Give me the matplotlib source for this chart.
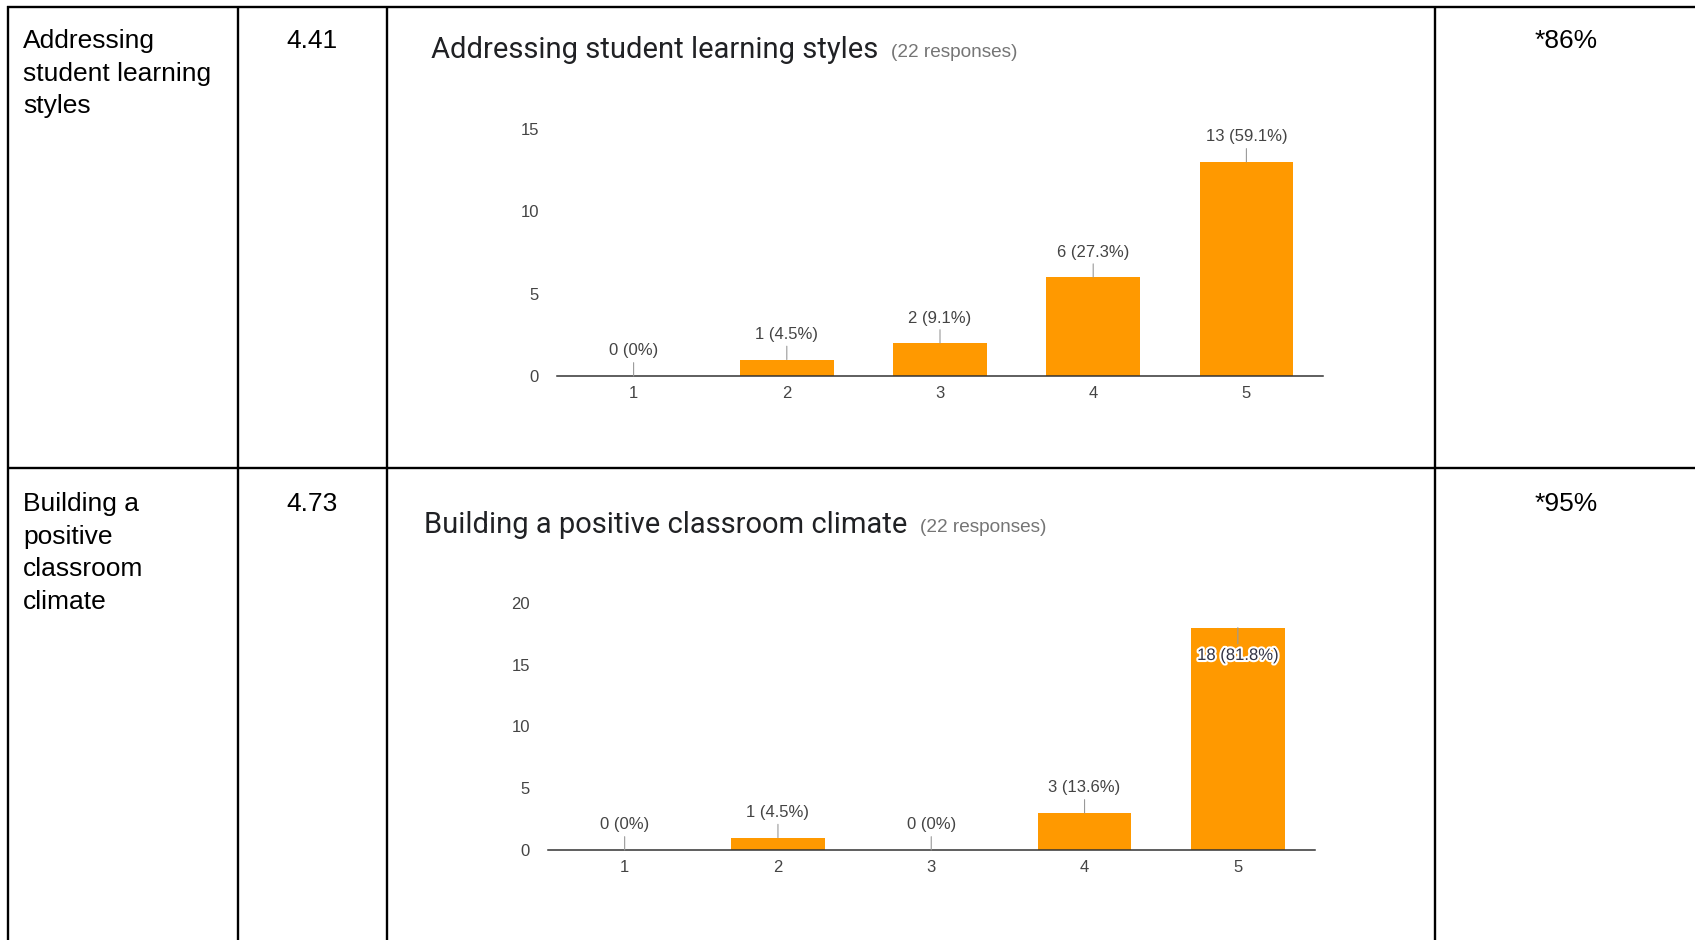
import numpy as np
import matplotlib.pyplot as plt
import matplotlib.patheffects as pe

# canvas size in pixels (dpi 100)
W, H = 1695, 940

row_names = ['Addressing\nstudent learning\nstyles',
             'Building a\npositive\nclassroom\nclimate']
row_means = ['4.41', '4.73']
row_agree = ['*86%', '*95%']

chart_titles = ['Addressing student learning styles',
                'Building a positive classroom climate']
n_responses = [22, 22]
scale = [1, 2, 3, 4, 5]
counts_styles = [0, 1, 2, 6, 13]
counts_climate = [0, 1, 0, 3, 18]
y_max = [15, 20]

ORANGE = '#ff9900'
TXT = '#444444'

plt.rcParams['font.family'] = ['Liberation Sans', 'DejaVu Sans']

fig = plt.figure(figsize=(W / 100, H / 100), dpi=100)
fig.patch.set_facecolor('white')

# full-size axes in pixel units for the table grid and cell text
bg = fig.add_axes([0, 0, 1, 1])
bg.set_xlim(0, W)
bg.set_ylim(H, 0)
bg.axis('off')

col_x = [8, 238, 387, 1435]
row_y = [7, 468]
text_off = [22, 24]
for x in col_x:
    bg.plot([x, x], [row_y[0] - 1, H], color='black', lw=1.7, solid_capstyle='butt')
for y in row_y:
    bg.plot([col_x[0] - 1, W], [y, y], color='black', lw=1.7, solid_capstyle='butt')

for i, y0 in enumerate(row_y):
    ty = y0 + text_off[i]
    bg.text(23, ty, row_names[i], fontsize=19, color='black',
            va='top', ha='left', linespacing=1.45)
    bg.text(312, ty, row_means[i], fontsize=19, color='black',
            va='top', ha='center')
    bg.text(1566, ty, row_agree[i], fontsize=19, color='black',
            va='top', ha='center')


def pct_label(c, total):
    p = round(100 * c / total, 1)
    return f'{c} ({p:g}%)'


def draw_chart(rect, counts, ymax, total):
    l, r, t, b = rect
    ax = fig.add_axes([l / W, 1 - b / H, (r - l) / W, (b - t) / H])
    ax.bar(scale, counts, width=0.61, color=ORANGE, zorder=2)
    ax.set_xlim(0.5, 5.5)
    ax.set_ylim(0, ymax)
    ax.set_xticks(scale)
    ax.set_yticks(np.arange(0, ymax + 1, 5))
    for s in ['top', 'right', 'left']:
        ax.spines[s].set_visible(False)
    ax.spines['bottom'].set_color('#333333')
    ax.spines['bottom'].set_linewidth(1.1)
    ax.spines['bottom'].set_zorder(3)
    ax.tick_params(axis='x', length=0, pad=7.5, labelsize=12, labelcolor=TXT)
    ax.tick_params(axis='y', length=0, pad=13, labelsize=12, labelcolor=TXT)
    ax.patch.set_alpha(0)

    px_per_unit = (b - t) / ymax
    for x, c in zip(scale, counts):
        lab = pct_label(c, total)
        inside = c + 25 / px_per_unit > ymax
        if inside:
            ax.annotate(lab, xy=(x, c), xytext=(0, -20), textcoords='offset points',
                        ha='center', va='center', fontsize=12, color='#333344',
                        path_effects=[pe.withStroke(linewidth=3, foreground='white')],
                        arrowprops=dict(arrowstyle='-', color='#999999', lw=0.8,
                                        shrinkA=1, shrinkB=0),
                        annotation_clip=False, zorder=4)
        else:
            ax.annotate(lab, xy=(x, c), xytext=(0, 18), textcoords='offset points',
                        ha='center', va='center', fontsize=12, color=TXT,
                        arrowprops=dict(arrowstyle='-', color='#999999', lw=0.8,
                                        shrinkA=1, shrinkB=0),
                        annotation_clip=False, zorder=4)
    return ax


draw_chart((557, 1323, 129, 376), counts_styles, y_max[0], n_responses[0])
draw_chart((548, 1314.5, 603, 850), counts_climate, y_max[1], n_responses[1])

title_pos = [(431, 50), (424, 525)]
for (tx, ty), title, n in zip(title_pos, chart_titles, n_responses):
    tt = bg.text(tx, ty, title, fontsize=21, color='#202124', family='Roboto',
                 ha='left', va='center')
    bg.annotate(f'({n} responses)', xy=(1, 0), xycoords=tt, xytext=(9, 2),
                textcoords='offset points', ha='left', va='bottom',
                fontsize=13.7, color='#757575')

fig.savefig('out.png', dpi=100, facecolor='white')
